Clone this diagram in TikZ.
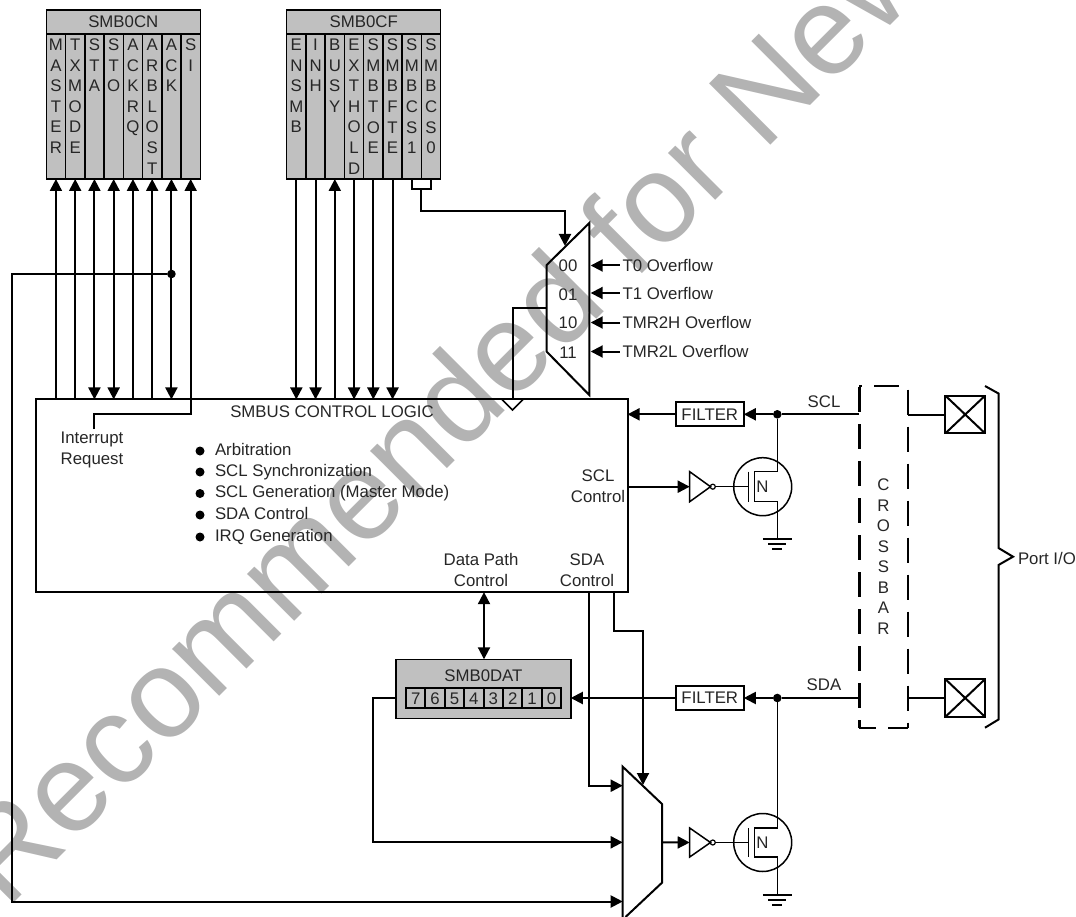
\documentclass[tikz,border=0pt]{standalone}
\usepackage{fontspec}
\setmainfont{Liberation Sans}
\usetikzlibrary{positioning, arrows.meta}
\definecolor{regfill}{HTML}{C0C0C0}
\definecolor{markgray}{HTML}{B3B3B3}
\begin{document}
\begin{tikzpicture}[
    x=1pt, y=-1pt,
    node distance=11pt,
    every node/.style={inner sep=0pt, outer sep=0pt, text=black!85, font=\fontsize{16.8}{20.6}\selectfont},
    wire/.style={line width=2pt},
    thinwire/.style={line width=1.5pt},
    arrow/.style={wire, -{Triangle[length=12pt,width=12pt]}},
    twoway/.style={wire, {Triangle[length=12pt,width=12pt]}-{Triangle[length=12pt,width=12pt]}},
    reghead/.style={draw, thinwire, fill=regfill, anchor=north west, minimum height=24pt, align=center},
    bitcell/.style={draw, thinwire, fill=regfill, anchor=north west, minimum width=19.25pt, minimum height=145pt},
    bittext/.style={anchor=north, align=center},
    datcell/.style={draw, wire, fill=regfill, minimum width=19.4pt, minimum height=20pt},
    filterbox/.style={draw, wire, minimum width=68pt, minimum height=24pt},
    portbox/.style={draw, wire, minimum width=39.5pt, minimum height=37.5pt},
    dot/.style={circle, fill=black, minimum size=8.6pt},
    bullet/.style={circle, fill=black, minimum size=9pt},
    item/.style={anchor=west, text height=12pt, text depth=3.5pt},
    lbl/.style={align=center},
    crossline/.style={line width=2.4pt, dash pattern=on 25pt off 12pt},
    markstyle/.style={anchor=base west, rotate=45, text=markgray, font=\fontsize{126}{126}\selectfont}
]
\useasboundingbox (0,0) rectangle (1076,917);
\begin{scope}
\clip (0,0) rectangle (1076,917);
\node[markstyle] (mark) at (6,910) {Recommended for New};
\end{scope}

\node[draw, wire, minimum width=591.7pt, minimum height=192.7pt] (logic) at (331.7,495.8) {};
\node[lbl] (logictitle) at (332,412) {SMBUS CONTROL LOGIC};
\node[lbl] (irq) at (92,450) {Interrupt\\Request};
\node[lbl] (sclctl) at (598,486) {SCL\\Control};
\node[lbl] (datactl) at (481,570) {Data Path\\Control};
\node[lbl] (sdactl) at (587,570) {SDA\\Control};
\foreach \i/\y/\txt in {1/451/Arbitration, 2/472/SCL Synchronization, 3/493.5/SCL Generation (Master Mode), 4/515/SDA Control, 5/537/IRQ Generation} {
    \node[bullet] (bul\i) at (200,\y) {};
    \node[item, right=10.5pt of bul\i] (item\i) {\txt};
}

\node[reghead, minimum width=154pt] (cnhead) at (46.3,10) {SMB0CN};
\foreach \i/\txt in {1/{M\\A\\S\\T\\E\\R}, 2/{T\\X\\M\\O\\D\\E}, 3/{S\\T\\A}, 4/{S\\T\\O}, 5/{A\\C\\K\\R\\Q}, 6/{A\\R\\B\\L\\O\\S\\T}, 7/{A\\C\\K}, 8/{S\\I}} {
    \node[bitcell] (cn\i) at ({46.3+19.25*(\i-1)},34) {};
    \node[bittext] (cntext\i) at ([yshift=-5pt]cn\i.north) {\txt};
}
\node[reghead, minimum width=154pt] (cfhead) at (286.7,10) {SMB0CF};
\foreach \i/\txt in {1/{E\\N\\S\\M\\B}, 2/{I\\N\\H}, 3/{B\\U\\S\\Y}, 4/{E\\X\\T\\H\\O\\L\\D}, 5/{S\\M\\B\\T\\O\\E}, 6/{S\\M\\B\\F\\T\\E}, 7/{S\\M\\B\\C\\S\\1}, 8/{S\\M\\B\\C\\S\\0}} {
    \node[bitcell] (cf\i) at ({286.7+19.25*(\i-1)},34) {};
    \node[bittext] (cftext\i) at ([yshift=-5pt]cf\i.north) {\txt};
}

\foreach \i in {1,2,5,6} {
    \draw [arrow] (cn\i.south |- logic.north) -- (cn\i.south);
}
\foreach \i in {3,4,7} {
    \draw [twoway] (cn\i.south |- logic.north) -- (cn\i.south);
}
\coordinate (irqtop) at (94,429);
\draw [arrow] (irqtop) -- ++(0,-15) -| (cn8.south);
\foreach \i in {1,2,4,5,6} {
    \draw [arrow] (cf\i.south) -- (cf\i.south |- logic.north);
}
\draw [arrow] (cf3.south |- logic.north) -- (cf3.south);

\node[dot] (ackdot) at (cn7.south |- 0,274) {};
\coordinate (leftbus) at (11.5,901.5);
\coordinate (sdamuxc) at (622.7,901.5);
\draw [arrow] (ackdot) -| (leftbus) -- (sdamuxc);

\coordinate (cfjoin) at (420.7,188.7);
\coordinate (cstop) at (565,246);
\coordinate (csout) at (546.7,308);
\coordinate (clkin) at (512.5,399.5);
\draw [wire] (cf7.south) |- (cfjoin) -| (cf8.south);
\draw [arrow] (cfjoin) -- ++(0,22.6) -| (cstop);
\draw [wire] (546.7,265) -- (589.3,223) -- (589.3,395) -- (546.7,351.7) -- cycle;
\foreach \i/\y/\txt in {0/266/00, 1/295/01, 2/323/10, 3/353/11} {
    \node (csbit\i) at (568,\y) {\txt};
}
\draw [wire] (csout) -| (clkin);
\draw [thinwire] ([xshift=-10.5pt]clkin) -- ([yshift=-10.5pt]clkin) -- ([xshift=10.5pt]clkin);
\foreach \i/\y/\txt in {0/265.5/T0 Overflow, 1/293/T1 Overflow, 2/322.5/TMR2H Overflow, 3/351.5/TMR2L Overflow} {
    \node[anchor=west] (ovf\i) at (622.5,\y) {\txt};
    \draw [arrow] (ovf\i.west) ++(-3,0) -- (590.7,\y);
}

\node[minimum width=48.4pt, minimum height=342pt, align=center, font=\fontsize{16.8}{20.5}\selectfont] (crossbar) at (883.5,556.7) {C\\R\\O\\S\\S\\B\\A\\R};
\draw [crossline, dash phase=17pt] (crossbar.south west) -- (crossbar.north west);
\draw [crossline, dash phase=22pt] (crossbar.north west) -- (crossbar.north east);
\draw [crossline, dash phase=33pt] (crossbar.north east) -- (crossbar.south east);
\draw [crossline, dash phase=8pt] (crossbar.south west) -- (crossbar.south east);
\foreach \s/\lbly/\y/\label/\py in {scl/401.5/414.3/SCL/414.5, sda/685/698/SDA/698} {
    \node[filterbox] (\s filter) at (709.8,\y) {FILTER};
    \node[dot] (\s dot) at (777.3,\y) {};
    \node[portbox] (\s port) at (965.2,\py) {};
    \node (\s name) at (824,\lbly) {\label};
    \draw [arrow] (\s dot) -- (\s filter);
    \draw [wire] (\s dot) -- (\s dot -| crossbar.west);
    \draw [wire] (crossbar.east |- \s port) -- (\s port);
    \draw [wire] (\s port.north west) -- (\s port.south east) (\s port.south west) -- (\s port.north east);
}
\draw [arrow] (sclfilter) -- (logic.east |- sclfilter);

\foreach \s/\y/\hi/\gnd in {scl/486.7/15/539, sda/842.5/14.5/895} {
    \node[draw, thinwire, circle, minimum size=58pt] (\s fet) at (762.7,\y) {};
    \node (\s fetn) at (762.5,\y) {N};
    \node[circle, draw, line width=1.2pt, fill=white, minimum size=5pt] (\s bub) at (712.8,\y) {};
    \coordinate (\s inv) at (689.7,\y);
    \coordinate (\s gate) at (748.5,\y);
    \coordinate (\s gnd) at (777.3,\gnd);
    \draw [thinwire] (689.7,\y-\hi) -- (710.5,\y) -- (689.7,\y+\hi) -- cycle;
    \draw [thinwire] (\s bub) -- (\s gate);
    \draw [thinwire] (\s gate) ++(0,-\hi) -- ++(0,{2*\hi});
    \draw [thinwire] (\s dot) |- (754.3,\y-\hi) -- (754.3,\y+\hi) -| (\s gnd);
    \draw [thinwire] (\s gnd) ++(-14.5,0) -- ++(29,0);
    \draw [thinwire] (\s gnd) ++(-9,5) -- ++(18,0);
    \draw [thinwire] (\s gnd) ++(-5,10) -- ++(10,0);
}
\draw [arrow] (logic.east |- sclinv) -- (sclinv);

\node[draw, thinwire, fill=regfill, minimum width=174.7pt, minimum height=59pt] (dat) at (483.4,688.8) {};
\node[lbl] (datname) at (483.4,676) {SMB0DAT};
\foreach \i/\d in {0/7, 1/6, 2/5, 3/4, 4/3, 5/2, 6/1, 7/0} {
    \node[datcell] (dat\i) at ({415.7+19.4*\i},698.3) {\d};
}
\draw [arrow] (sdafilter) -- (dat.east |- sdafilter);
\draw [twoway] (logic.south -| 484,0) -- (dat.north -| 484,0);

\coordinate (sdamuxa) at (622.7,785.7);
\coordinate (sdamuxb) at (622.7,842.3);
\coordinate (sdasel) at (643,785);
\draw [wire] (625.5,917) -- (662,882.7) -- (662,804) -- (622.7,766.7) -- (622.7,917);
\draw [arrow] (589.3,592) |- (sdamuxa);
\draw [arrow] (614,592) |- (643,630.7) -- (sdasel);
\draw [arrow] (dat.west |- sdafilter) -- ++(-23.3,0) |- (sdamuxb);
\draw [arrow] (662,842.3) -- (sdainv);

\draw [wire] (985,386) -- (998.5,393.5) -- (998.5,548) -- (1013,556.7) -- (998.5,565) -- (998.5,719.5) -- (985,727.7);
\node[anchor=west] (portio) at (1018,558) {Port I/O};
\end{tikzpicture}
\end{document}
